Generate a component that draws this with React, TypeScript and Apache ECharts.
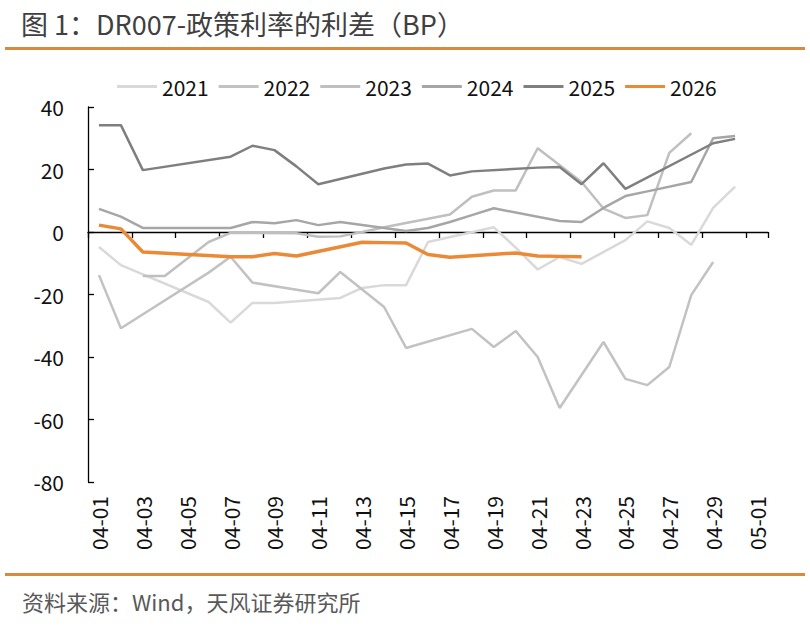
import React, { useEffect, useRef } from "react";
import * as echarts from "echarts";

// Calendar days on the category axis (April 1 to May 1)
const days = [
  "04-01", "04-02", "04-03", "04-04", "04-05", "04-06", "04-07", "04-08",
  "04-09", "04-10", "04-11", "04-12", "04-13", "04-14", "04-15", "04-16",
  "04-17", "04-18", "04-19", "04-20", "04-21", "04-22", "04-23", "04-24",
  "04-25", "04-26", "04-27", "04-28", "04-29", "04-30", "05-01",
];

// DR007 minus policy rate, bp; null = no fixing that day
const y2021 = [
  -4.8, -10.6, null, null, null, -22.4, -29, -22.7, -22.7, null, null,
  -21.1, -17.9, -17, -17, -3.2, null, null, 1.5, -5, -12, -8, -10.2, null,
  -2.6, 3.4, 1.3, -4.1, 7.7, 14.5, null,
];
const y2022 = [
  -13.8, -30.8, null, null, null, -13, -7.9, -16.2, null, null, -19.6,
  -12.8, -18.4, -24, -37.1, null, null, -31, -36.8, -31.7, -40, -56.3, null,
  -35.2, -47, -49, -43.2, -20.2, -9.6, null, null,
];
const y2023 = [
  null, null, -14.1, -14.1, null, -3.2, -0.3, null, null, -0.4, -1.5, -1.4,
  0, 1.5, null, null, 5.6, 11.3, 13.3, 13.3, 26.8, null, 16, 7.5, 4.5, 5.4,
  25.3, 31.6, null, null, null,
];
const y2024 = [
  7.4, 4.9, 1.3, null, null, null, 1.3, 3.2, 2.8, 3.8, 2.2, 3.2, null, null,
  0.3, 1.3, 3.2, 5.4, 7.6, null, null, 3.5, 3.2, 7.7, 11.5, 13, null, 16, 30,
  30.7, null,
];
const y2025 = [
  34.2, 34.2, 19.8, null, null, null, 24.1, 27.6, 26.2, 21, 15.3, null, null,
  20.3, 21.6, 21.9, 18.1, 19.4, null, null, 20.6, 20.8, 15.3, 22, 13.8, null,
  null, null, 28.4, 29.8, null,
];
const y2026 = [
  2.2, 1.0, -6.4, null, null, null, -7.9, -7.9, -6.9, -7.7, null, null, -3.3,
  -3.4, -3.5, -7.2, -8.1, null, null, -6.7, -7.7, -7.8, -7.9, null, null,
  null, null, null, null, null, null,
];

const seriesNames = ["2021", "2022", "2023", "2024", "2025", "2026"];
const seriesData = [y2021, y2022, y2023, y2024, y2025, y2026];
const seriesColors = ["#d9d9d9", "#c2c2c2", "#bfbfbf", "#a6a6a6", "#7f7f7f", "#ea8a36"];
const seriesWidths = [2.5, 2.5, 2.5, 2.5, 2.5, 3.5];

const FONT = '"Noto Sans CJK SC", "Noto Sans", sans-serif';
const RULE = "#d88a3e";

export default function App() {
  const ref = useRef<HTMLDivElement>(null);

  useEffect(() => {
    if (!ref.current) return;
    const chart = echarts.init(ref.current, undefined, { renderer: "svg" });

    const option = {
      animation: false,
      backgroundColor: "#ffffff",
      textStyle: { fontFamily: FONT },
      grid: { left: 88, right: 42, top: 107, bottom: 144, containLabel: false },
      legend: {
        left: 112,
        top: 71,
        icon: "rect",
        itemWidth: 40,
        itemHeight: 3,
        itemGap: 10,
        textStyle: { fontSize: 21, color: "#111", fontFamily: FONT },
        data: seriesNames,
      },
      xAxis: [
        {
          type: "category",
          data: days,
          boundaryGap: true,
          axisLine: { show: false, onZero: false },
          axisTick: { show: false },
          axisLabel: {
            interval: 1,
            rotate: 90,
            margin: 14,
            fontSize: 21,
            color: "#111",
            fontFamily: FONT,
          },
          splitLine: { show: false },
        },
        {
          type: "category",
          data: days,
          boundaryGap: true,
          position: "bottom",
          axisLine: {
            show: true,
            onZero: true,
            onZeroAxisIndex: 0,
            lineStyle: { color: "#000", width: 1.3 },
          },
          axisTick: {
            show: true,
            interval: 1,
            length: 6,
            lineStyle: { color: "#000", width: 1.3 },
          },
          axisLabel: { show: false },
          splitLine: { show: false },
        },
      ],
      yAxis: {
        type: "value",
        min: -80,
        max: 40,
        interval: 20,
        axisLine: { show: true, lineStyle: { color: "#000", width: 1.3 } },
        axisTick: { show: true, inside: true, length: 6, lineStyle: { color: "#000", width: 1.3 } },
        axisLabel: { fontSize: 21, color: "#111", margin: 24, fontFamily: FONT },
        splitLine: { show: false },
      },
      series: seriesNames.map((name, i) => ({
        name,
        type: "line",
        data: seriesData[i],
        xAxisIndex: 0,
        yAxisIndex: 0,
        symbol: "none",
        connectNulls: true,
        lineStyle: { color: seriesColors[i], width: seriesWidths[i] },
        itemStyle: { color: seriesColors[i] },
        z: 2 + i,
      })),
      graphic: [
        {
          type: "text",
          left: 21,
          top: 10,
          style: {
            text: "图 1：DR007-政策利率的利差（BP）",
            fontSize: 27,
            fontFamily: FONT,
            fill: "#404040",
          },
        },
        { type: "rect", shape: { x: 5, y: 47, width: 800, height: 3 }, style: { fill: RULE } },
        { type: "rect", shape: { x: 5, y: 573, width: 800, height: 3 }, style: { fill: RULE } },
        {
          type: "text",
          left: 22,
          top: 590,
          style: {
            text: "资料来源：Wind，天风证券研究所",
            fontSize: 22,
            fontFamily: FONT,
            fill: "#595959",
          },
        },
      ],
    };

    chart.setOption(option as any);
    return () => chart.dispose();
  }, []);

  return (
    <div
      ref={ref}
      style={{ position: "fixed", left: 0, top: 0, width: 810, height: 626, background: "#fff" }}
    />
  );
}
